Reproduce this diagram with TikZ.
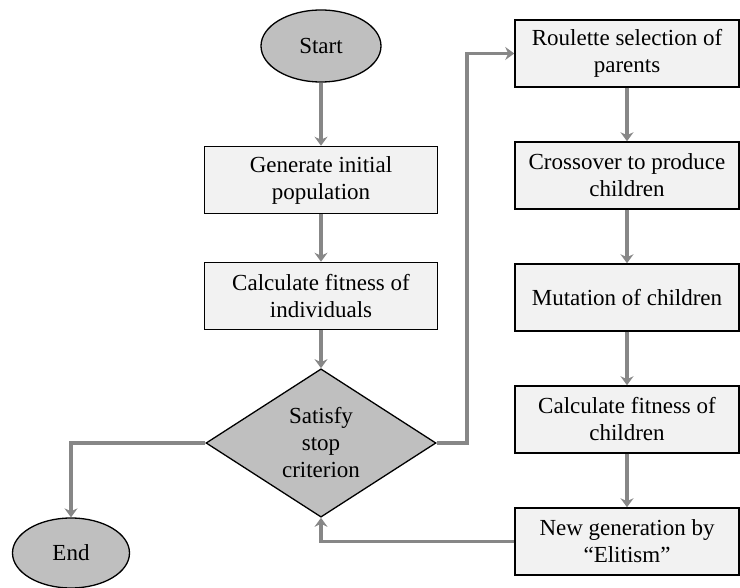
\documentclass[tikz,border=0pt]{standalone}
\usepackage{fontspec}
\setmainfont{Liberation Serif}
\usetikzlibrary{shapes.geometric,arrows.meta}

\definecolor{boxfill}{HTML}{F2F2F2}
\definecolor{termfill}{HTML}{BFBFBF}
\definecolor{linegray}{HTML}{878787}

\begin{document}
\begin{tikzpicture}[x=1pt, y=-1pt, auto,
    box/.style={draw, rectangle, fill=boxfill, line width=1.5pt, minimum height=67pt, align=center, inner sep=0pt},
    term/.style={draw, ellipse, fill=termfill, line width=1.3pt, inner sep=0pt},
    decision/.style={draw, diamond, fill=termfill, line width=1.3pt, minimum width=230pt, minimum height=127pt, inner sep=0pt, align=center},
    arr/.style={draw=linegray, line width=3.2pt, -{Stealth[length=9pt, width=13pt, inset=3pt]}},
    every node/.style={font=\fontsize{23}{27}\selectfont}]
    \useasboundingbox (0,0) rectangle (740,588);

    % Nodes
    \node (start) [term, minimum width=120pt, minimum height=72pt] at (321,46) {Start};
    \node (init) [box, minimum width=233pt, node distance=134pt, below of=start] {Generate initial\\population};
    \node (fit) [box, minimum width=233pt, node distance=116pt, below of=init] {Calculate fitness of\\individuals};
    \node (stop) [decision, node distance=147pt, below of=fit] {Satisfy\\stop\\criterion};
    \node (finish) [term, minimum width=117pt, minimum height=70pt] at (71,553) {End};

    \node (roul) [box, minimum width=224pt] at (627,53.5) {Roulette selection of\\parents};
    \node (cross) [box, minimum width=224pt, node distance=122pt, below of=roul] {Crossover to produce\\children};
    \node (mut) [box, minimum width=224pt, node distance=122pt, below of=cross] {Mutation of children};
    \node (fitch) [box, minimum width=224pt, node distance=122pt, below of=mut] {Calculate fitness of\\children};
    \node (newgen) [box, minimum width=224pt, node distance=122pt, below of=fitch] {New generation by\\``Elitism''};
    \coordinate (turn) at (467,443);

    % Arrows
    \draw[arr] (start) -- (init);
    \draw[arr] (init) -- (fit);
    \draw[arr] (fit) -- (stop);
    \draw[arr] (stop.east) -- (turn) |- (roul.west);
    \draw[arr] (roul) -- (cross);
    \draw[arr] (cross) -- (mut);
    \draw[arr] (mut) -- (fitch);
    \draw[arr] (fitch) -- (newgen);
    \draw[arr] (newgen.west) -| (stop.south);
    \draw[arr] (stop.west) -| (finish.north);
\end{tikzpicture}
\end{document}
